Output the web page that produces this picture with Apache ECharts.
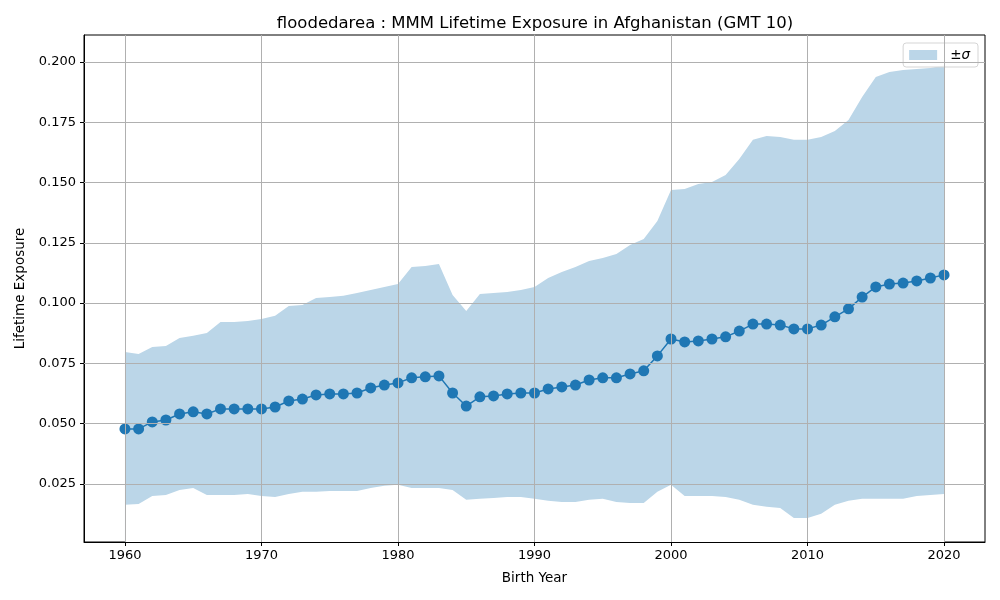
<!DOCTYPE html>
<html>
<head>
<meta charset="utf-8">
<script src="https://cdn.jsdelivr.net/npm/echarts@6/dist/echarts.min.js"></script>
<style>
  html, body { margin: 0; padding: 0; background: #fff; }
  #chart { width: 1000px; height: 600px; }
</style>
</head>
<body>
<div id="chart"></div>
<script>
var years = [];
for (var y = 1960; y <= 2020; y++) years.push(y);

var meanVals = [
  0.0478, 0.0478, 0.0507, 0.0515, 0.0540, 0.0549, 0.0540, 0.0561, 0.0561, 0.0561,
  0.0561, 0.0569, 0.0594, 0.0602, 0.0619, 0.0623, 0.0623, 0.0627, 0.0648, 0.0660,
  0.0669, 0.0690, 0.0694, 0.0698, 0.0627, 0.0573, 0.0611, 0.0615, 0.0623, 0.0627,
  0.0627, 0.0644, 0.0652, 0.0660, 0.0681, 0.0690, 0.0690, 0.0706, 0.0719, 0.0781,
  0.0851, 0.0839, 0.0843, 0.0851, 0.0860, 0.0884, 0.0913, 0.0913, 0.0909, 0.0893,
  0.0893, 0.0909, 0.0943, 0.0976, 0.1025, 0.1067, 0.1079, 0.1083, 0.1092, 0.1104,
  0.1117
];

var upperVals = [
  0.0797, 0.0789, 0.0818, 0.0822, 0.0855, 0.0864, 0.0876, 0.0922, 0.0922, 0.0926,
  0.0934, 0.0947, 0.0988, 0.0992, 0.1021, 0.1025, 0.1030, 0.1042, 0.1054, 0.1067,
  0.1079, 0.1150, 0.1154, 0.1162, 0.1034, 0.0967, 0.1038, 0.1042, 0.1046, 0.1054,
  0.1067, 0.1104, 0.1129, 0.1150, 0.1175, 0.1187, 0.1204, 0.1241, 0.1266, 0.1341,
  0.1469, 0.1473, 0.1494, 0.1502, 0.1531, 0.1598, 0.1677, 0.1693, 0.1689, 0.1677,
  0.1677, 0.1689, 0.1714, 0.1759, 0.1855, 0.1938, 0.1959, 0.1967, 0.1971, 0.1975,
  0.1985
];

var lowerVals = [
  0.0163, 0.0167, 0.0200, 0.0204, 0.0225, 0.0233, 0.0204, 0.0204, 0.0204, 0.0208,
  0.0200, 0.0196, 0.0208, 0.0217, 0.0217, 0.0221, 0.0221, 0.0221, 0.0233, 0.0242,
  0.0246, 0.0233, 0.0233, 0.0233, 0.0225, 0.0184, 0.0188, 0.0192, 0.0196, 0.0196,
  0.0188, 0.0180, 0.0175, 0.0175, 0.0184, 0.0188, 0.0175, 0.0171, 0.0171, 0.0217,
  0.0246, 0.0200, 0.0200, 0.0200, 0.0196, 0.0184, 0.0163, 0.0155, 0.0150, 0.0109,
  0.0109, 0.0126, 0.0163, 0.0180, 0.0188, 0.0188, 0.0188, 0.0188, 0.0200, 0.0204,
  0.0208
];

var xTicks = [1960, 1970, 1980, 1990, 2000, 2010, 2020];
var yTicks = [0.025, 0.050, 0.075, 0.100, 0.125, 0.150, 0.175, 0.200];

var font = 'DejaVu Sans';
var blue = '#1f77b4';
var bandColor = '#bbd6e8';

var chart = echarts.init(document.getElementById('chart'));

var option = {
  animation: false,
  title: {
    text: 'floodedarea : MMM Lifetime Exposure in Afghanistan (GMT 10)',
    left: 530, top: 10, textAlign: 'center',
    textStyle: { fontFamily: font, fontSize: 16.5, fontWeight: 'normal', color: '#000' }
  },
  legend: {
    right: 22, top: 43,
    data: [{ name: '±σ', icon: 'rect', itemStyle: { color: bandColor } }],
    itemWidth: 28, itemHeight: 10, itemGap: 0,
    borderColor: '#d5d5d5', borderWidth: 1, borderRadius: 3,
    padding: [5, 8, 5, 6],
    backgroundColor: 'rgba(255,255,255,0.8)',
    textStyle: { fontFamily: font, fontSize: 13.5, color: '#000', padding: [0, 0, 0, 8],
      rich: { i: { fontFamily: font, fontSize: 13.5, fontStyle: 'italic', color: '#000' } } },
    formatter: function () { return '±{i|σ}'; },
    selectedMode: false
  },
  grid: { left: 84, right: 15, top: 35, bottom: 58, containLabel: false,
    show: true, borderColor: '#000', borderWidth: 1, backgroundColor: 'transparent' },
  xAxis: {
    type: 'value', min: 1957, max: 2023, z: 2,
    name: 'Birth Year', nameLocation: 'middle', nameGap: 29,
    nameTextStyle: { fontFamily: font, fontSize: 13.5, color: '#000' },
    axisLine: { show: true, onZero: false, lineStyle: { color: '#000', width: 1 } },
    axisTick: { show: true, length: 4, customValues: xTicks, lineStyle: { color: '#000' } },
    axisLabel: { customValues: xTicks, fontFamily: font, fontSize: 13, color: '#000', margin: 7,
      formatter: function (v) { return String(v); } },
    splitLine: { show: false }
  },
  yAxis: {
    type: 'value', min: 0.0009, max: 0.2112, z: 2,
    name: 'Lifetime Exposure', nameLocation: 'middle', nameGap: 55, nameRotate: 90,
    nameTextStyle: { fontFamily: font, fontSize: 13.5, color: '#000' },
    axisLine: { show: true, lineStyle: { color: '#000', width: 1 } },
    axisTick: { show: true, length: 4, customValues: yTicks, lineStyle: { color: '#000' } },
    axisLabel: { customValues: yTicks, fontFamily: font, fontSize: 13, color: '#000', margin: 8,
      formatter: function (v) { return v.toFixed(3); } },
    splitLine: { show: false }
  },
  series: [
    {
      name: '±σ', type: 'line', z: 1, silent: true,
      data: years.map(function (yr, i) { return [yr, upperVals[i]]; }),
      symbol: 'none', lineStyle: { width: 0, color: bandColor },
      itemStyle: { color: bandColor },
      areaStyle: { color: bandColor, opacity: 1, origin: 'start' }
    },
    {
      name: 'lower', type: 'line', z: 1, silent: true,
      data: years.map(function (yr, i) { return [yr, lowerVals[i]]; }),
      symbol: 'none', lineStyle: { width: 0, color: '#fff' },
      areaStyle: { color: '#fff', opacity: 1, origin: 'start' }
    },
    {
      name: 'grid', type: 'line', data: [], z: 2, silent: true,
      markLine: {
        silent: true, symbol: 'none', label: { show: false }, precision: 6,
        lineStyle: { color: '#b0b0b0', width: 1, type: 'solid' },
        data: xTicks.map(function (v) { return { xAxis: v }; })
          .concat(yTicks.map(function (v) { return { yAxis: v }; }))
      }
    },
    {
      name: 'mean', type: 'line', z: 3,
      data: years.map(function (yr, i) { return [yr, meanVals[i]]; }),
      symbol: 'circle', symbolSize: 11,
      lineStyle: { color: blue, width: 1.5 },
      itemStyle: { color: blue }
    }
  ]
};

chart.setOption(option);
window.addEventListener('resize', function () { chart.resize(); });
</script>
</body>
</html>
